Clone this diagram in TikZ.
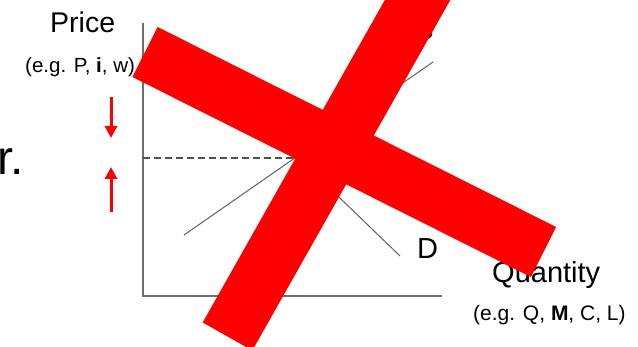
\documentclass[tikz,border=0pt]{standalone}
\usepackage{fontspec}
\setmainfont{Liberation Sans}
\usetikzlibrary{arrows.meta}
\definecolor{axisgray}{HTML}{6E6E6E}
\definecolor{curvegray}{HTML}{606060}
\definecolor{dashgray}{HTML}{505050}
\definecolor{crossred}{HTML}{FF0000}
\tikzset{
  axisline/.style={draw=axisgray, line width=1.5pt},
  curveline/.style={draw=curvegray, line width=1pt},
  guideline/.style={draw=dashgray, line width=2pt, dash pattern=on 7pt off 4pt},
  moveArrow/.style={draw=crossred, line width=3pt, -{Triangle[length=12pt,width=12pt]}},
  crossbar/.style={draw=crossred, line cap=butt},
  lbl/.style={inner sep=0pt, text=black},
}
\begin{document}
\begin{tikzpicture}[x=1pt,y=-1pt]
\useasboundingbox (0,0) rectangle (638,347);

% axis labels
\node[lbl, anchor=base west, font=\fontsize{28.5}{30}\selectfont] (price) at (50,33) {Price};
\node[lbl, anchor=base west, font=\fontsize{20.5}{22}\selectfont] (pex) at (25,73) {(e.g. P, \textbf{i}, w)};
\node[lbl, anchor=base west, font=\fontsize{29}{31}\selectfont] (qty) at (492,283) {Quantity};
\node[lbl, anchor=base west, font=\fontsize{21}{23}\selectfont] (qex) at (473,321) {(e.g. Q, \textbf{M}, C, L)};

% text running in from the left
\node[lbl, anchor=base west, font=\fontsize{48}{50}\selectfont] (tail) at (-3,175) {r.};

% axes
\coordinate (top) at (143,23);
\coordinate (origin) at (143,296);
\coordinate (right) at (442,296);
\draw[axisline] (top) -- (origin) -- (right);

% supply and demand curves
\coordinate (s0) at (184,235);
\coordinate (s1) at (433,62);
\coordinate (d0) at (200,63);
\coordinate (d1) at (400,256);
\draw[curveline] (s0) -- (s1);
\draw[curveline] (d0) -- (d1);
\node[lbl, anchor=base west, font=\fontsize{29}{31}\selectfont] (dlab) at (417,259) {D};
\node[lbl, anchor=base east, font=\fontsize{29}{31}\selectfont] (slab) at (434,40) {S};

% equilibrium price guide
\coordinate (py) at (143,158);
\coordinate (eq) at (293,158);
\draw[guideline] (py) -- (eq);

% price adjustment arrows
\coordinate (a1) at (111,97);
\coordinate (a2) at (111,138);
\coordinate (b1) at (111,212);
\coordinate (b2) at (111,167);
\draw[moveArrow] (a1) -- (a2);
\draw[moveArrow] (b1) -- (b2);

% big red cross
\coordinate (x1a) at (145,52);
\coordinate (x1b) at (543.5,252);
\coordinate (x2a) at (227.5,336.5);
\coordinate (x2b) at (430,-22);
\draw[crossbar, line width=56pt] (x1a) -- (x1b);
\draw[crossbar, line width=57pt] (x2a) -- (x2b);
\end{tikzpicture}
\end{document}
